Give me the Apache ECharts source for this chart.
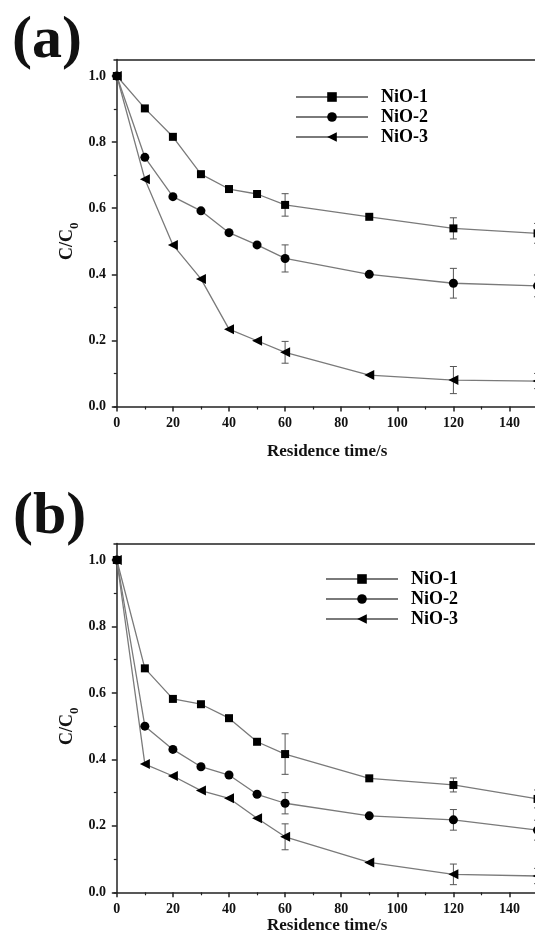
<!DOCTYPE html>
<html>
<head>
<meta charset="utf-8">
<script src="https://cdn.jsdelivr.net/npm/echarts@6/dist/echarts.min.js"></script>
<style>
html, body { margin: 0; padding: 0; background: #fff; overflow: hidden; }
#chart { width: 600px; height: 942px; }
</style>
</head>
<body>
<div id="chart"></div>
<script>
// residence time (s)
const times = [0, 10, 20, 30, 40, 50, 60, 90, 120, 150];
const errTimes = [60, 120, 150];
const names = ['NiO-1', 'NiO-2', 'NiO-3'];

// panel (a)
const aNiO1 = [1.0, 0.902, 0.816, 0.703, 0.658, 0.643, 0.610, 0.574, 0.539, 0.524];
const aNiO2 = [1.0, 0.754, 0.635, 0.592, 0.526, 0.489, 0.448, 0.400, 0.373, 0.365];
const aNiO3 = [1.0, 0.688, 0.489, 0.386, 0.234, 0.199, 0.164, 0.095, 0.080, 0.077];
const aErr1 = [0.034, 0.032, 0.030];
const aErr2 = [0.041, 0.045, 0.033];
const aErr3 = [0.033, 0.041, 0.023];

// panel (b)
const bNiO1 = [1.0, 0.674, 0.582, 0.566, 0.524, 0.453, 0.416, 0.343, 0.323, 0.281];
const bNiO2 = [1.0, 0.500, 0.430, 0.378, 0.353, 0.295, 0.268, 0.230, 0.218, 0.187];
const bNiO3 = [1.0, 0.386, 0.350, 0.306, 0.283, 0.223, 0.167, 0.090, 0.054, 0.049];
const bErr1 = [0.061, 0.021, 0.027];
const bErr2 = [0.032, 0.031, 0.030];
const bErr3 = [0.039, 0.031, 0.023];

const font = 'Liberation Serif';
const axisColor = '#222';
const lineGray = '#7a7a7a';
const pxPerUnit = 2.805;

const symbols = [
    { symbol: 'rect', symbolSize: 8, symbolRotate: 0 },
    { symbol: 'circle', symbolSize: 9, symbolRotate: 0 },
    { symbol: 'triangle', symbolSize: 10, symbolRotate: 90 }
];

const chart = echarts.init(document.getElementById('chart'), null, { renderer: 'canvas' });

// 每个面板：数据网格（轴线）+ 刻度网格（刻度和标签）
const panels = [
    { top: 59.5, zeroY: 406.5, oneY: 76, values: [aNiO1, aNiO2, aNiO3], errs: [aErr1, aErr2, aErr3], nameGap: 37 },
    { top: 543.4, zeroY: 892.3, oneY: 560, values: [bNiO1, bNiO2, bNiO3], errs: [bErr1, bErr2, bErr3], nameGap: 25 }
];

const grid = [];
const xAxis = [];
const yAxis = [];
const series = [];

const labelStyle = { fontFamily: font, fontWeight: 'bold', fontSize: 14, color: '#111' };
const axisLineStyle = { show: true, lineStyle: { color: axisColor, width: 1.5 } };

panels.forEach((p, i) => {
    const dataGrid = grid.length;
    grid.push({ left: 114, top: p.top, width: 152 * pxPerUnit, height: p.zeroY - p.top });
    grid.push({ left: 114 + pxPerUnit, top: p.oneY, width: 160 * pxPerUnit, height: p.zeroY - p.oneY });

    const xData = xAxis.length;
    xAxis.push({
        type: 'value', gridIndex: dataGrid, min: -1, max: 151, position: 'bottom',
        axisLine: axisLineStyle, axisTick: { show: false }, axisLabel: { show: false }, splitLine: { show: false },
        name: 'Residence time/s', nameLocation: 'middle', nameGap: p.nameGap,
        nameTextStyle: { fontFamily: font, fontWeight: 'bold', fontSize: 17, color: '#111' }
    });
    xAxis.push({
        type: 'value', gridIndex: dataGrid, min: -1, max: 151, position: 'top',
        axisLine: axisLineStyle, axisTick: { show: false }, axisLabel: { show: false }, splitLine: { show: false }
    });
    xAxis.push({
        type: 'value', gridIndex: dataGrid + 1, min: 0, max: 160, interval: 20, position: 'bottom',
        axisLine: { show: false },
        axisTick: { show: true, length: 5, lineStyle: { color: axisColor, width: 1.5 } },
        minorTick: { show: true, splitNumber: 2, length: 3, lineStyle: { color: axisColor, width: 1.2 } },
        axisLabel: Object.assign({ margin: 10 }, labelStyle),
        splitLine: { show: false }
    });

    const yData = yAxis.length;
    yAxis.push({
        type: 'value', gridIndex: dataGrid, min: 0, max: 1.05,
        axisLine: axisLineStyle, axisTick: { show: false }, axisLabel: { show: false }, splitLine: { show: false }
    });
    yAxis.push({
        type: 'value', gridIndex: dataGrid + 1, min: 0, max: 1, interval: 0.2, offset: pxPerUnit,
        axisLine: { show: false },
        axisTick: { show: true, length: 5, lineStyle: { color: axisColor, width: 1.5 } },
        minorTick: { show: true, splitNumber: 2, length: 3, lineStyle: { color: axisColor, width: 1.2 } },
        axisLabel: Object.assign({ margin: 8, formatter: v => v.toFixed(1) }, labelStyle),
        splitLine: { show: false },
        name: '{a|C/C}{b|0}', nameLocation: 'middle', nameRotate: 90, nameGap: 36, nameMoveOverlap: false,
        nameTextStyle: {
            rich: {
                a: { fontFamily: font, fontWeight: 'bold', fontSize: 18, color: '#111', lineHeight: 20, verticalAlign: 'top' },
                b: { fontFamily: font, fontWeight: 'bold', fontSize: 13, color: '#111', lineHeight: 13, verticalAlign: 'top', padding: [10, 0, 0, 0] }
            }
        }
    });

    p.values.forEach((vals, k) => {
        series.push({
            name: names[k], type: 'line', xAxisIndex: xData, yAxisIndex: yData,
            data: times.map((t, j) => [t, vals[j]]),
            symbol: symbols[k].symbol, symbolSize: symbols[k].symbolSize, symbolRotate: symbols[k].symbolRotate,
            lineStyle: { color: lineGray, width: 1.3 },
            itemStyle: { color: '#000' },
            z: 3
        });
        series.push({
            name: names[k] + ' err', type: 'custom', xAxisIndex: xData, yAxisIndex: yData,
            data: errTimes.map((t, j) => [t, vals[times.indexOf(t)], p.errs[k][j]]),
            renderItem(params, api) {
                const x = api.value(0), y = api.value(1), e = api.value(2);
                const hi = api.coord([x, y + e]);
                const lo = api.coord([x, y - e]);
                const w = 3.5;
                const st = { stroke: '#555', lineWidth: 1 };
                return {
                    type: 'group',
                    children: [
                        { type: 'line', shape: { x1: hi[0], y1: hi[1], x2: lo[0], y2: lo[1] }, style: st },
                        { type: 'line', shape: { x1: hi[0] - w, y1: hi[1], x2: hi[0] + w, y2: hi[1] }, style: st },
                        { type: 'line', shape: { x1: lo[0] - w, y1: lo[1], x2: lo[0] + w, y2: lo[1] }, style: st }
                    ]
                };
            },
            z: 2
        });
    });
});

const legendBase = {
    orient: 'vertical', data: names, itemWidth: 72, itemHeight: 12, itemGap: 2, padding: 0,
    selectedMode: false,
    textStyle: { fontFamily: font, fontWeight: 'bold', fontSize: 18, color: '#000', lineHeight: 17, padding: [0, 0, 0, 8] }
};

const titleStyle = { fontFamily: font, fontWeight: 'bold', fontSize: 60, color: '#111' };

chart.setOption({
    animation: false,
    backgroundColor: '#fff',
    title: [
        { text: '(a)', left: 12, top: 11, padding: 0, textStyle: titleStyle },
        { text: '(b)', left: 13, top: 487, padding: 0, textStyle: titleStyle }
    ],
    legend: [
        Object.assign({ left: 295, top: 88 }, legendBase),
        Object.assign({ left: 325, top: 570 }, legendBase)
    ],
    grid,
    xAxis,
    yAxis,
    series
});
</script>
</body>
</html>
